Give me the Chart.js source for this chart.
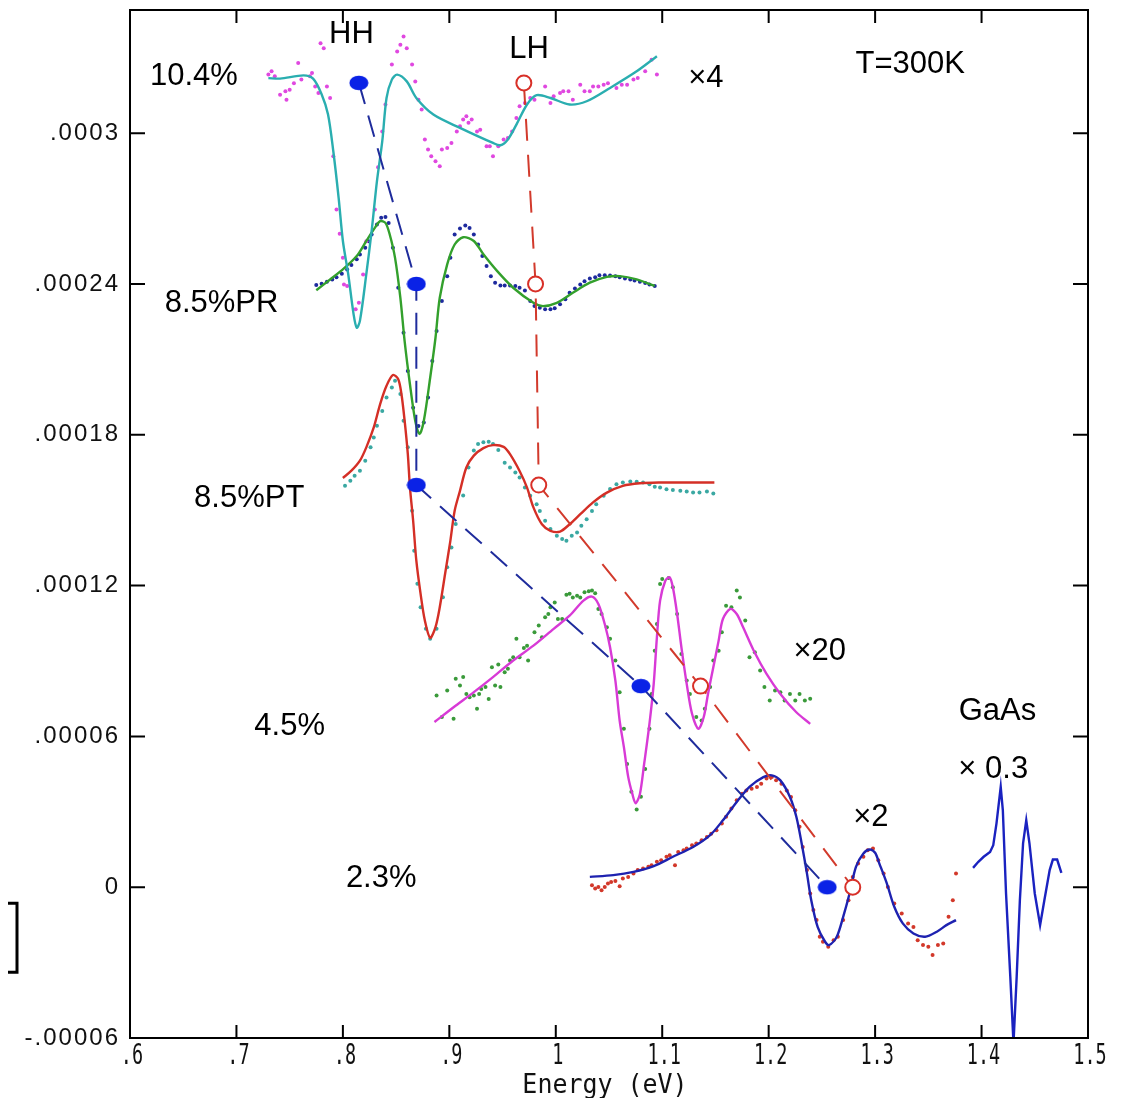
<!DOCTYPE html>
<html><head><meta charset="utf-8">
<script src="https://cdn.jsdelivr.net/npm/chart.js@4.4.1/dist/chart.umd.min.js"></script>
<style>html,body{margin:0;padding:0;background:#fff;}canvas{display:block;}</style>
</head><body>
<canvas id="c" width="1123" height="1098"></canvas>
<script>
// Energies in eV; signal values in units of 1e-5 (multiplied by Y_UNIT when plotted)
const Y_UNIT = 1e-5;

const xTickValues = [0.6,0.7,0.8,0.9,1.0,1.1,1.2,1.3,1.4,1.5];
const xTickLabels = ['.6','.7','.8','.9','1','1.1','1.2','1.3','1.4','1.5'];
const yTickValues = [-6e-5,0,6e-5,12e-5,18e-5,24e-5,30e-5];
const yTickLabels = ['-.00006','0','.00006','.00012','.00018','.00024','.0003'];

// 10.4% : fit (teal line) and data (magenta dots)
const e104Fit = [0.730,0.741,0.763,0.772,0.780,0.786,0.791,0.796,0.800,0.805,0.810,0.813,0.816,0.822,0.827,0.832,0.837,0.841,0.846,0.851,0.860,0.869,0.885,0.910,0.941,0.948,0.955,0.963,0.973,0.982,0.995,1.013,1.029,1.051,1.076,1.095];
const v104Fit = [32.19,32.17,32.30,32.17,31.55,30.75,29.28,27.43,25.71,24.39,22.81,22.26,22.53,24.39,26.10,28.09,29.68,31.40,32.13,32.33,32.06,31.40,30.74,30.21,29.61,29.52,29.75,30.34,31.14,31.51,31.40,31.14,31.27,31.80,32.46,33.06];
const e104Dat = [0.730,0.733,0.736,0.741,0.746,0.747,0.750,0.754,0.758,0.761,0.769,0.771,0.774,0.777,0.779,0.782,0.785,0.788,0.791,0.794,0.797,0.800,0.801,0.804,0.812,0.815,0.819,0.822,0.830,0.833,0.837,0.840,0.846,0.851,0.854,0.857,0.860,0.865,0.868,0.871,0.874,0.877,0.880,0.883,0.887,0.891,0.893,0.898,0.902,0.907,0.910,0.913,0.916,0.918,0.921,0.926,0.929,0.935,0.938,0.941,0.946,0.951,0.955,0.959,0.963,0.966,0.971,0.976,0.980,0.990,0.995,0.998,1.004,1.007,1.012,1.016,1.023,1.027,1.032,1.035,1.040,1.045,1.049,1.057,1.062,1.067,1.073,1.077,1.084,1.090,1.095];
const v104Dat = [32.33,32.46,32.26,31.53,31.67,31.33,31.73,31.99,32.79,32.13,32.26,32.39,31.86,31.60,33.58,33.38,31.86,31.40,29.08,26.96,26.00,25.04,23.98,23.92,22.99,23.25,24.38,25.70,26.96,28.64,30.07,31.14,32.73,33.25,33.52,33.85,33.38,32.73,32.06,31.33,30.94,29.75,29.35,29.08,28.88,28.68,29.35,29.41,29.61,30.07,30.27,30.54,30.67,30.41,30.54,30.07,30.14,29.48,29.48,29.08,29.48,29.75,29.81,30.07,30.60,31.07,31.20,31.40,31.33,31.86,31.20,31.47,31.60,31.67,31.67,31.33,31.93,31.67,31.67,31.86,31.86,31.93,31.99,31.80,31.93,31.93,32.13,32.19,32.46,32.92,32.33];

// 8.5% PR : fit (green line) and data (dark blue dots)
const ePRFit = [0.775,0.788,0.800,0.813,0.822,0.830,0.835,0.840,0.844,0.849,0.854,0.858,0.863,0.868,0.872,0.876,0.882,0.887,0.891,0.898,0.905,0.913,0.923,0.932,0.945,0.960,0.979,0.988,1.001,1.016,1.032,1.048,1.060,1.076,1.093];
const vPRFit = [23.75,24.18,24.58,25.11,25.71,26.23,26.50,26.43,25.97,25.04,23.45,21.73,20.01,18.55,18.03,18.55,20.27,21.86,23.45,24.78,25.57,25.86,25.71,25.18,24.51,23.85,23.25,23.12,23.25,23.65,24.05,24.28,24.31,24.18,23.92];
const ePRDat = [0.775,0.780,0.785,0.790,0.794,0.799,0.804,0.808,0.813,0.816,0.821,0.824,0.827,0.832,0.836,0.840,0.843,0.847,0.852,0.857,0.861,0.866,0.871,0.876,0.880,0.884,0.888,0.893,0.898,0.901,0.905,0.910,0.915,0.919,0.923,0.927,0.931,0.935,0.939,0.943,0.948,0.952,0.957,0.962,0.966,0.971,0.976,0.980,0.985,0.990,0.995,0.999,1.004,1.009,1.013,1.018,1.023,1.027,1.032,1.037,1.041,1.046,1.051,1.056,1.060,1.065,1.070,1.074,1.079,1.084,1.088,1.093];
const vPRDat = [23.96,24.01,24.09,24.18,24.27,24.41,24.58,24.75,24.98,25.17,25.44,25.70,25.97,26.37,26.63,26.66,26.43,25.44,23.85,22.06,20.54,19.08,18.35,18.49,19.48,20.94,22.13,23.32,24.31,25.04,25.97,26.21,26.33,26.23,25.97,25.57,25.11,24.71,24.31,24.05,23.94,23.94,23.94,23.92,23.85,23.74,23.32,23.12,23.05,22.99,22.99,23.03,23.19,23.39,23.65,23.82,23.98,24.11,24.22,24.27,24.35,24.35,24.34,24.31,24.27,24.22,24.18,24.14,24.09,24.04,23.98,23.92];

// 8.5% PT : fit (red line) and data (teal dots)
const ePTFit = [0.800,0.808,0.816,0.822,0.829,0.835,0.841,0.847,0.852,0.855,0.858,0.861,0.863,0.866,0.869,0.873,0.877,0.882,0.887,0.891,0.896,0.901,0.905,0.910,0.916,0.923,0.932,0.941,0.951,0.957,0.966,0.973,0.979,0.987,0.995,1.004,1.013,1.023,1.035,1.048,1.063,1.079,1.098,1.117,1.135,1.149];
const vPTFit = [16.28,16.57,16.97,17.50,18.29,19.22,19.95,20.38,20.21,19.62,18.56,17.23,15.91,14.58,12.99,11.67,10.61,9.92,10.35,11.14,12.46,13.79,14.98,15.77,16.70,17.17,17.47,17.59,17.52,17.23,16.56,15.90,15.11,14.44,14.18,14.15,14.44,14.84,15.31,15.70,15.97,16.07,16.10,16.10,16.10,16.10];
const ePTDat = [0.802,0.807,0.811,0.816,0.821,0.826,0.829,0.832,0.837,0.841,0.846,0.849,0.854,0.857,0.861,0.865,0.867,0.870,0.873,0.878,0.882,0.888,0.894,0.898,0.902,0.906,0.913,0.918,0.923,0.927,0.932,0.937,0.941,0.946,0.952,0.957,0.962,0.966,0.971,0.976,0.982,0.985,0.990,0.995,1.001,1.006,1.010,1.015,1.020,1.024,1.029,1.034,1.038,1.045,1.051,1.057,1.063,1.070,1.076,1.082,1.088,1.093,1.098,1.104,1.110,1.117,1.123,1.129,1.135,1.142,1.148];
const vPTDat = [15.97,16.17,16.37,16.57,16.97,17.50,17.89,18.36,18.95,19.48,19.88,20.15,19.62,18.56,17.50,14.98,13.39,12.07,11.14,10.28,9.88,10.28,11.54,12.73,13.52,14.45,15.58,16.70,17.37,17.63,17.70,17.72,17.63,17.39,16.89,16.70,16.50,16.30,15.90,15.57,15.24,14.97,14.58,14.25,13.98,13.85,13.78,13.98,14.11,14.38,14.64,14.97,15.24,15.57,15.84,16.03,16.10,16.14,16.13,16.10,16.03,15.93,15.90,15.83,15.80,15.77,15.74,15.70,15.70,15.74,15.66];

// 4.5% : fit (magenta line) and data (green dots)
const e45Fit = [0.886,0.904,0.923,0.941,0.960,0.979,0.998,1.013,1.026,1.034,1.040,1.046,1.051,1.056,1.060,1.064,1.068,1.072,1.075,1.079,1.083,1.088,1.092,1.095,1.098,1.103,1.107,1.110,1.114,1.118,1.123,1.128,1.134,1.139,1.143,1.148,1.153,1.157,1.164,1.170,1.176,1.186,1.198,1.211,1.226,1.239];
const v45Fit = [6.57,7.16,7.76,8.36,9.02,9.61,10.28,10.80,11.40,11.56,11.27,10.47,9.55,8.22,6.63,5.57,4.40,3.70,3.34,3.70,4.90,6.50,8.09,9.94,11.40,12.20,12.33,11.93,10.87,9.55,8.09,6.90,6.30,6.77,7.69,8.75,9.81,10.67,11.07,10.87,10.34,9.41,8.49,7.69,6.96,6.50];
const e45Dat = [0.888,0.893,0.898,0.904,0.906,0.910,0.913,0.916,0.919,0.923,0.926,0.928,0.930,0.934,0.937,0.940,0.943,0.946,0.948,0.952,0.955,0.957,0.960,0.963,0.966,0.970,0.973,0.974,0.980,0.984,0.987,0.990,0.993,0.995,0.999,1.002,1.006,1.010,1.013,1.016,1.020,1.023,1.027,1.031,1.034,1.037,1.040,1.043,1.048,1.051,1.056,1.060,1.064,1.067,1.071,1.076,1.080,1.084,1.088,1.090,1.093,1.095,1.098,1.100,1.106,1.110,1.114,1.118,1.123,1.126,1.132,1.137,1.140,1.145,1.148,1.153,1.156,1.160,1.165,1.170,1.173,1.178,1.182,1.187,1.192,1.196,1.201,1.206,1.211,1.215,1.220,1.225,1.229,1.234,1.239];
const v45Dat = [7.63,6.77,7.83,6.70,8.29,8.02,8.36,7.69,7.56,7.63,7.10,7.69,7.89,7.96,7.49,8.75,8.02,8.86,7.96,8.55,8.69,9.02,9.15,9.88,9.15,9.52,9.61,9.02,10.14,10.41,9.94,10.74,10.87,11.14,11.33,10.67,10.67,11.64,11.67,11.53,11.60,11.53,11.73,11.77,11.80,11.69,11.07,10.87,10.34,9.88,9.02,7.76,6.30,4.90,3.80,3.09,3.60,4.70,6.30,7.69,9.41,10.47,12.06,12.26,12.30,11.93,10.87,9.28,8.22,7.69,6.77,6.63,7.10,7.96,9.02,9.41,10.14,11.20,11.14,11.80,11.53,10.61,9.15,9.35,8.62,7.96,7.43,7.83,7.76,7.43,7.69,7.43,7.69,7.43,7.50];

// 2.3% : fit (blue line) and data (red dots)
const e23Fit = [1.032,1.054,1.073,1.092,1.110,1.129,1.145,1.157,1.170,1.182,1.195,1.203,1.211,1.220,1.226,1.231,1.236,1.240,1.246,1.253,1.257,1.264,1.270,1.276,1.282,1.289,1.295,1.300,1.304,1.311,1.318,1.326,1.336,1.347,1.358,1.367,1.376];
const v23Fit = [0.41,0.48,0.61,0.84,1.21,1.60,2.07,2.66,3.39,3.99,4.38,4.45,4.25,3.59,2.80,1.74,0.54,-0.52,-1.58,-2.17,-2.30,-1.97,-1.18,-0.25,0.81,1.34,1.50,1.37,0.94,0.15,-0.78,-1.44,-1.84,-1.97,-1.77,-1.51,-1.31];
const e23Dat = [1.034,1.037,1.040,1.043,1.046,1.049,1.052,1.056,1.060,1.063,1.068,1.073,1.077,1.082,1.087,1.090,1.095,1.099,1.104,1.107,1.112,1.115,1.120,1.123,1.128,1.132,1.137,1.142,1.146,1.151,1.156,1.160,1.165,1.170,1.175,1.179,1.184,1.189,1.193,1.198,1.203,1.207,1.212,1.217,1.221,1.225,1.229,1.232,1.236,1.239,1.242,1.245,1.248,1.251,1.256,1.261,1.265,1.270,1.275,1.279,1.284,1.289,1.293,1.298,1.303,1.308,1.312,1.318,1.325,1.331,1.336,1.340,1.345,1.350,1.354,1.359,1.364,1.369,1.373,1.376];
const v23Dat = [0.08,-0.05,0.01,-0.12,0.01,0.15,0.21,0.25,0.04,0.35,0.41,0.54,0.68,0.74,0.81,0.87,1.01,1.07,1.21,1.27,0.87,1.40,1.47,1.54,1.67,1.74,1.87,2.00,2.13,2.27,2.53,2.80,3.13,3.46,3.72,3.85,3.92,3.99,4.12,4.32,4.38,4.25,4.12,3.85,3.59,3.06,2.40,1.60,0.68,-0.25,-0.91,-1.31,-1.97,-2.17,-2.37,-2.11,-1.97,-1.31,-0.52,0.41,0.94,1.21,1.47,1.54,1.07,0.54,0.01,-0.65,-1.05,-1.44,-1.58,-2.11,-2.30,-2.37,-2.70,-2.30,-2.24,-1.18,-0.52,0.54];

// GaAs (x 0.3) : blue line
const eGaAs = [1.392,1.397,1.402,1.408,1.411,1.414,1.418,1.420,1.423,1.427,1.430,1.433,1.436,1.439,1.442,1.445,1.450,1.455,1.459,1.464,1.467,1.471,1.475];
const vGaAs = [0.77,1.01,1.21,1.40,1.67,2.53,3.99,3.06,-0.25,-3.56,-6.20,-3.56,-0.52,1.74,2.66,1.74,-0.25,-1.51,-0.52,0.68,1.10,1.10,0.57];

// HH (filled blue) and LH (open red) transition markers, joined by dashed lines
const eHH = [0.815,0.869,0.869,1.080,1.255];
const vHH = [32,24,16,8,0];
const eLH = [0.970,0.981,0.984,1.136,1.279];
const vLH = [32,24,16,8,0];

// Text labels placed in data coordinates
const labels = [
  {t:'10.4%', x:0.660, y:32.26}, {t:'HH', x:0.808, y:33.93}, {t:'LH', x:0.975, y:33.33},
  {t:'\u00d74', x:1.141, y:32.18}, {t:'T=300K', x:1.333, y:32.74},
  {t:'8.5%PR', x:0.686, y:23.24}, {t:'8.5%PT', x:0.712, y:15.46},
  {t:'\u00d720', x:1.248, y:9.38}, {t:'4.5%', x:0.750, y:6.40},
  {t:'GaAs', x:1.415, y:6.99}, {t:'\u00d7 0.3', x:1.411, y:4.69},
  {t:'\u00d72', x:1.296, y:2.78}, {t:'2.3%', x:0.836, y:0.36}
];
const scaleBar = {top:-0.64, bottom:-3.38};

function pts(es, vs){ return es.map((e,i)=>({x:e, y:vs[i]*Y_UNIT})); }

const hhImg = document.createElement('canvas');
hhImg.width = 20; hhImg.height = 16;
(function(){ const g = hhImg.getContext('2d'); g.fillStyle = '#0a22e6'; g.beginPath(); g.ellipse(10,8,9.5,7.3,0,0,Math.PI*2); g.fill(); })();

function fit(data, color, tension){
  return {data, showLine:true, borderColor:color, borderWidth:2.4, pointRadius:0, pointHoverRadius:0, tension: tension===undefined?0.3:tension, fill:false};
}
function dots(data, color){
  return {data, showLine:false, pointRadius:2, pointStyle:'circle', pointBackgroundColor:color, pointBorderColor:color, pointBorderWidth:0, pointHoverRadius:0};
}

const decor = {
  id:'decor',
  afterDraw(chart){
    const {ctx, chartArea:a, scales:{x, y}} = chart;
    ctx.save();
    // frame
    ctx.strokeStyle = '#000'; ctx.lineWidth = 2;
    ctx.strokeRect(a.left, a.top, a.right - a.left, a.bottom - a.top);
    // inward ticks
    ctx.beginPath();
    xTickValues.forEach(v => {
      const px = x.getPixelForValue(v);
      if (px > a.left + 3 && px < a.right - 3) {
        ctx.moveTo(px, a.bottom); ctx.lineTo(px, a.bottom - 13);
        ctx.moveTo(px, a.top); ctx.lineTo(px, a.top + 13);
      }
    });
    yTickValues.forEach(v => {
      const py = y.getPixelForValue(v);
      if (py > a.top + 3 && py < a.bottom - 3) {
        ctx.moveTo(a.left, py); ctx.lineTo(a.left + 15, py);
        ctx.moveTo(a.right, py); ctx.lineTo(a.right - 15, py);
      }
    });
    ctx.stroke();
    // y tick labels
    ctx.fillStyle = '#111';
    ctx.font = "24px 'Liberation Sans', Arial, sans-serif";
    ctx.textAlign = 'right'; ctx.textBaseline = 'middle';
    try { ctx.letterSpacing = '2px'; } catch(e) {}
    yTickValues.forEach((v, i) => { ctx.fillText(yTickLabels[i], a.left - 10, y.getPixelForValue(v)); });
    try { ctx.letterSpacing = '0px'; } catch(e) {}
    // x tick labels (narrow)
    ctx.textAlign = 'center'; ctx.textBaseline = 'middle';
    ctx.font = "28px 'DejaVu Sans Mono', monospace";
    xTickValues.forEach((v, i) => {
      ctx.save();
      ctx.translate(x.getPixelForValue(v) + 2, a.bottom + 19);
      ctx.scale(0.66, 1);
      ctx.fillText(xTickLabels[i], 0, 0);
      ctx.restore();
    });
    // x axis title
    ctx.font = "26px 'DejaVu Sans Mono', monospace";
    ctx.save();
    ctx.translate((a.left + a.right) / 2 - 4, a.bottom + 48);
    ctx.scale(0.96, 1);
    ctx.fillText('Energy (eV)', 0, 0);
    ctx.restore();
    // scale bar bracket at left
    const t = y.getPixelForValue(scaleBar.top * Y_UNIT), b = y.getPixelForValue(scaleBar.bottom * Y_UNIT);
    ctx.lineWidth = 3; ctx.strokeStyle = '#000';
    ctx.beginPath(); ctx.moveTo(8, t); ctx.lineTo(17, t); ctx.lineTo(17, b); ctx.lineTo(8, b); ctx.stroke();
    // annotations
    ctx.fillStyle = '#000';
    ctx.font = "31px 'Liberation Sans', Arial, sans-serif";
    labels.forEach(l => { ctx.fillText(l.t, x.getPixelForValue(l.x), y.getPixelForValue(l.y * Y_UNIT)); });
    ctx.restore();
  }
};

new Chart(document.getElementById('c'), {
  type: 'scatter',
  data: { datasets: [
    {data: pts(eHH, vHH), showLine:false, pointStyle: hhImg, pointRadius: 9, pointHoverRadius: 9},
    {data: pts(eLH, vLH), showLine:false, pointStyle: 'circle', pointRadius: 7.5, pointBackgroundColor: '#ffffff', pointBorderColor: '#d83028', pointBorderWidth: 2, pointHoverRadius: 7.5},
    {data: pts(eHH, vHH), showLine:true, borderColor:'#1f2c9c', borderWidth:2, borderDash:[22,12], pointRadius:0, tension:0},
    {data: pts(eLH, vLH), showLine:true, borderColor:'#d23a2c', borderWidth:2, borderDash:[22,14], pointRadius:0, tension:0},
    fit(pts(e104Fit, v104Fit), '#2aaeb0'),
    fit(pts(ePRFit, vPRFit), '#33a02c'),
    fit(pts(ePTFit, vPTFit), '#d42f26'),
    fit(pts(e45Fit, v45Fit), '#d83ad6'),
    fit(pts(e23Fit, v23Fit), '#1e22b0'),
    fit(pts(eGaAs, vGaAs), '#1a22c0', 0),
    dots(pts(e104Dat, v104Dat), '#e048e0'),
    dots(pts(ePRDat, vPRDat), '#1e2a9e'),
    dots(pts(ePTDat, vPTDat), '#3aa8a2'),
    dots(pts(e45Dat, v45Dat), '#3a9a3a'),
    dots(pts(e23Dat, v23Dat), '#d2382a')
  ]},
  options: {
    responsive: false, animation: false, devicePixelRatio: 1,
    layout: { padding: { top: 8, right: 35, left: 0, bottom: 0 } },
    plugins: { legend: { display: false }, tooltip: { enabled: false } },
    events: [],
    scales: {
      x: { type: 'linear', min: 0.6, max: 1.5, grid: { display: false }, border: { display: false }, ticks: { display: false }, afterFit(s) { s.height = 60; } },
      y: { type: 'linear', min: -6e-5, max: 34.9e-5, grid: { display: false }, border: { display: false }, ticks: { display: false }, afterFit(s) { s.width = 130; } }
    }
  },
  plugins: [decor]
});
</script>
</body></html>
